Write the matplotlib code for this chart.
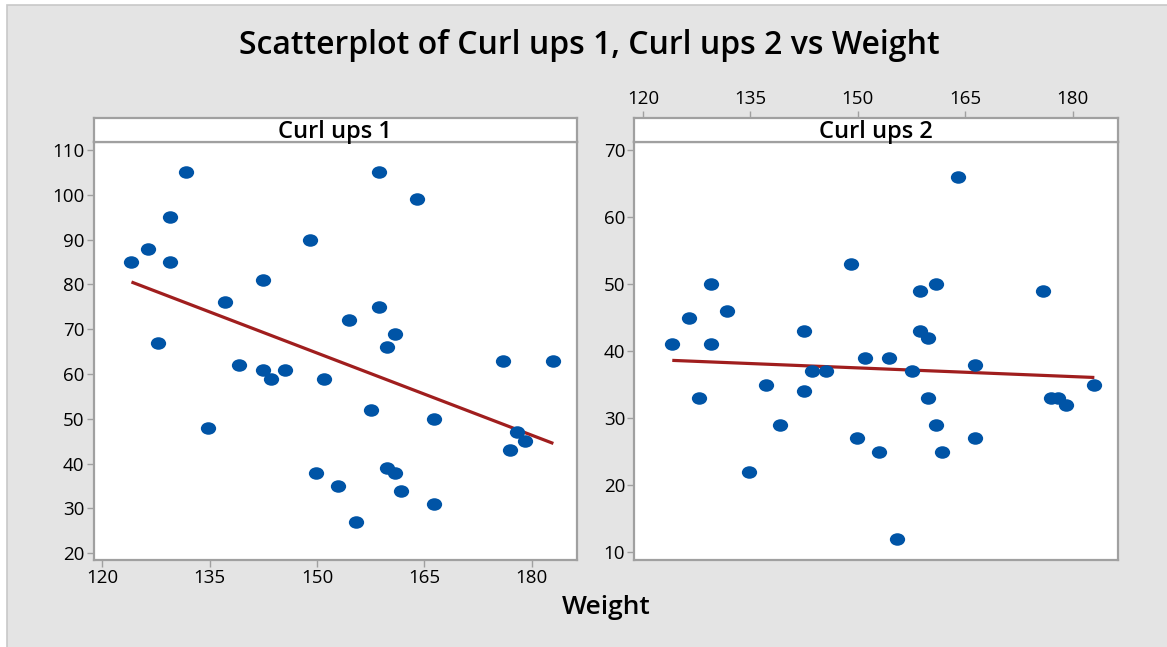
import numpy as np
import matplotlib
matplotlib.use("Agg")
import matplotlib.pyplot as plt
from matplotlib.path import Path
from matplotlib.transforms import Affine2D
from matplotlib.patches import Rectangle

# ---- data ----
weight = [124.1, 126.4, 127.8, 129.5, 129.5, 131.7, 134.8, 137.2, 139.1, 142.5,
          142.5, 143.6, 145.6, 149.0, 149.9, 151.0, 153.0, 154.4, 155.5, 157.5,
          158.6, 158.6, 159.8, 159.8, 160.9, 160.9, 161.7, 164.0, 166.3, 166.3,
          175.9, 177.0, 177.9, 179.0, 183.0]
curl_ups_1 = [85, 88, 67, 95, 85, 105, 48, 76, 62, 81,
              61, 59, 61, 90, 38, 59, 35, 72, 27, 52,
              105, 75, 66, 39, 69, 38, 34, 99, 50, 31,
              63, 43, 47, 45, 63]
curl_ups_2 = [41, 45, 33, 50, 41, 46, 22, 35, 29, 43,
              34, 37, 37, 53, 27, 39, 25, 39, 12, 37,
              49, 43, 33, 42, 50, 29, 25, 66, 38, 27,
              49, 33, 33, 32, 35]
x_ticks = [120, 135, 150, 165, 180]
y1_ticks = [20, 30, 40, 50, 60, 70, 80, 90, 100, 110]
y2_ticks = [10, 20, 30, 40, 50, 60, 70]
panel_titles = ["Curl ups 1", "Curl ups 2"]
title = "Scatterplot of Curl ups 1, Curl ups 2 vs Weight"
x_label = "Weight"

W, H = 1167, 647
FONT = "Open Sans"
plt.rcParams["font.family"] = [FONT, "DejaVu Sans"]

fig = plt.figure(figsize=(W / 100, H / 100), dpi=100, facecolor="white")
fig.patches.append(Rectangle((7 / W, -0.1), 1.2, 1 - 5 / H + 0.1, transform=fig.transFigure,
                             facecolor="#e4e4e4", edgecolor="#c8c8c8", linewidth=1.2, zorder=-10))

spine_c = "#a0a0a0"
blue = "#0054a6"
red = "#a01e1e"
ell = Path.unit_circle().transformed(Affine2D().scale(1.22, 1.0))
TICK_FS = 13.5

def fx(px):
    return px / W

def fy(py):
    return 1 - py / H

xlim = (118.8, 186.3)
panels = [
    dict(left=93.5, right=577, y=curl_ups_1, ylim=(18.5, 111.8), yt=y1_ticks, top_ticks=False),
    dict(left=634.3, right=1118, y=curl_ups_2, ylim=(8.85, 71.2), yt=y2_ticks, top_ticks=True),
]
ytop, ybot, strip_top = 142, 560, 117.5

for i, p in enumerate(panels):
    ax = fig.add_axes([fx(p["left"]), fy(ybot), fx(p["right"] - p["left"]), (ybot - ytop) / H])
    ax.set_facecolor("white")
    ax.set_xlim(*xlim)
    ax.set_ylim(*p["ylim"])
    wx = np.array(weight)
    wy = np.array(p["y"])
    ax.plot(wx, wy, linestyle="none", marker=ell, markersize=11, color=blue,
            markeredgewidth=0, zorder=3)
    k, b = np.polyfit(wx, wy, 1)
    xs = np.array([wx.min(), wx.max()])
    ax.plot(xs, k * xs + b, color=red, lw=2.3, zorder=2, solid_capstyle="butt")
    for s in ax.spines.values():
        s.set_color(spine_c)
        s.set_linewidth(1.6)
    ax.set_yticks(p["yt"])
    ax.tick_params(axis="y", direction="out", length=5, width=1, color=spine_c,
                   labelsize=TICK_FS, pad=1.5, labelcolor="black")
    ax.set_xticks(x_ticks)
    if p["top_ticks"]:
        ax.tick_params(axis="x", bottom=False, labelbottom=False)
    else:
        ax.tick_params(axis="x", direction="out", length=5, width=1, color=spine_c,
                       labelsize=TICK_FS, pad=1.5, labelcolor="black")

    sax = fig.add_axes([fx(p["left"]), fy(ytop), fx(p["right"] - p["left"]), (ytop - strip_top) / H])
    sax.set_facecolor("white")
    sax.set_xlim(*xlim)
    sax.set_yticks([])
    for s in sax.spines.values():
        s.set_color(spine_c)
        s.set_linewidth(1.6)
    sax.text(0.5, 0.42, panel_titles[i], transform=sax.transAxes, ha="center", va="center",
             fontsize=17, fontweight="semibold")
    if p["top_ticks"]:
        sax.set_xticks(x_ticks)
        sax.tick_params(axis="x", top=True, labeltop=True, bottom=False, labelbottom=False,
                        direction="out", length=5, width=1, color=spine_c, labelsize=TICK_FS, pad=1.5)
    else:
        sax.set_xticks([])

fig.text(fx(589), fy(45), title, ha="center", va="center", fontsize=23, fontweight="semibold")
fig.text(fx(606), fy(608), x_label, ha="center", va="center", fontsize=19, fontweight="semibold")

fig.savefig("out.png", dpi=100, facecolor=fig.get_facecolor())
